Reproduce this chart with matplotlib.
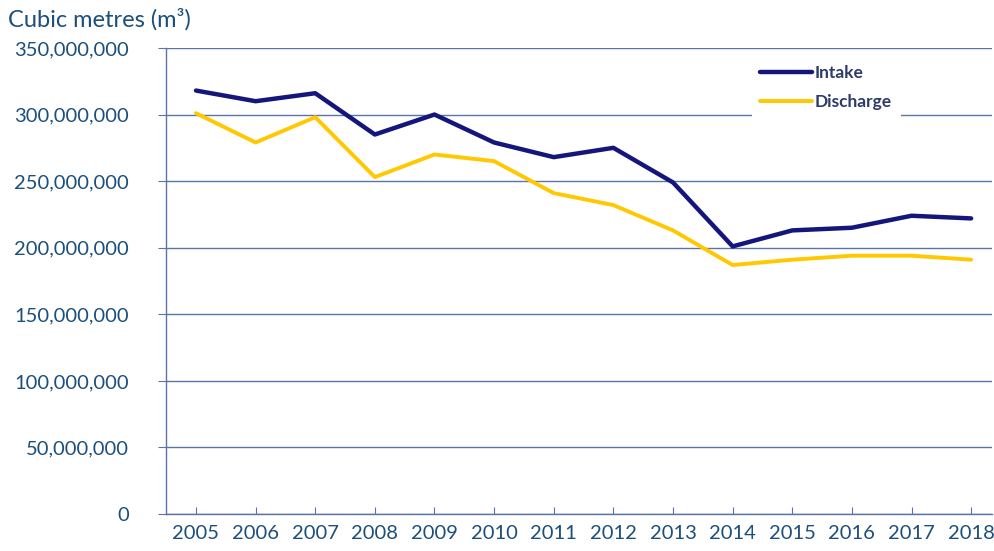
import matplotlib.pyplot as plt
from matplotlib.ticker import FuncFormatter

# Dados
anos = ['2005', '2006', '2007', '2008', '2009', '2010', '2011',
        '2012', '2013', '2014', '2015', '2016', '2017', '2018']
intake = [318, 310, 316, 285, 300, 279, 268, 275, 249, 201, 213, 215, 224, 222]
discharge = [301, 279, 298, 253, 270, 265, 241, 232, 213, 187, 191, 194, 194, 191]
intake = [v * 1e6 for v in intake]
discharge = [v * 1e6 for v in discharge]

cor_texto = '#1c4f7c'
cor_grade = '#5a73a8'

plt.rcParams['font.family'] = ['Lato', 'DejaVu Sans']

fig = plt.figure(figsize=(9.95, 5.51), dpi=100)
ax = fig.add_axes([0.167, 0.067, 0.83, 0.846])

x = range(len(anos))
ax.plot(x, intake, color='#14167c', lw=3.2, label='Intake', solid_capstyle='round', zorder=3)
ax.plot(x, discharge, color='#ffc800', lw=2.8, label='Discharge', solid_capstyle='round', zorder=3)

ax.set_ylim(0, 350e6)
ax.set_xlim(-0.5, 13.35)
ax.set_yticks(range(0, 350000001, 50000000))
ax.yaxis.set_major_formatter(FuncFormatter(lambda v, p: f'{int(v):,}'))
ax.set_xticks(list(x))
ax.set_xticklabels(anos)

ax.grid(axis='y', color=cor_grade, lw=1.0, zorder=1)
ax.set_axisbelow(True)
for lado in ['top', 'right']:
    ax.spines[lado].set_visible(False)
for lado in ['left', 'bottom']:
    ax.spines[lado].set_color(cor_grade)
    ax.spines[lado].set_linewidth(1.0)

ax.tick_params(axis='y', length=6, color=cor_grade, labelsize=14.5, labelcolor=cor_texto, pad=21)
ax.tick_params(axis='x', direction='in', length=5, color=cor_grade, labelsize=14.5,
               labelcolor=cor_texto, pad=8)

leg = ax.legend(loc='upper right', bbox_to_anchor=(0.9, 1.0), frameon=True, fontsize=12.5,
                handlelength=3.0, handletextpad=0.15, labelspacing=0.75, borderpad=0.5)
leg.get_frame().set_edgecolor('none')
leg.get_frame().set_facecolor('white')
leg.get_frame().set_alpha(1)
for t in leg.get_texts():
    t.set_color('#2d3b6b')
    t.set_fontweight('bold')

fig.text(0.008, 0.965, 'Cubic metres (m³)', fontsize=17, color=cor_texto, va='center')

fig.savefig('out.png')
